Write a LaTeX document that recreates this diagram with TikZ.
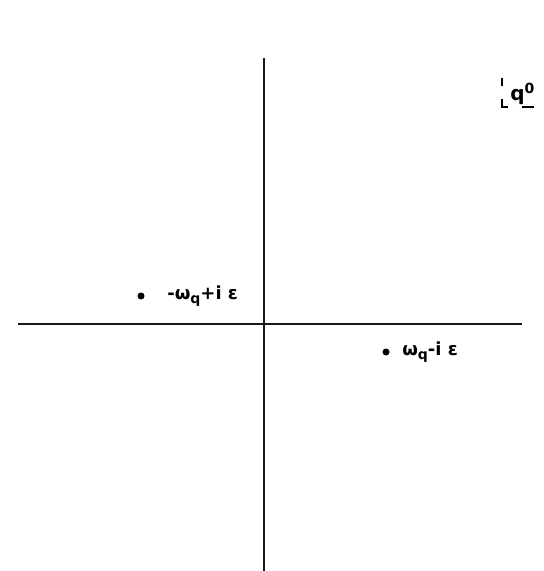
\documentclass[tikz,border=0pt]{standalone}
\usepackage{fontspec}
\setmainfont{DejaVu Sans}
\usepackage{tikz}
\usetikzlibrary{positioning}

\newcommand{\lowsub}[1]{\raisebox{-0.45ex}{\fontsize{7}{8}\selectfont #1}}

\tikzset{
  axis/.style={line width=1pt, black!90},
  pole/.style={circle, fill=black, inner sep=0pt, minimum size=3.5pt},
  polelabel/.style={font=\fontsize{9}{10}\selectfont\bfseries, inner sep=1pt, anchor=west},
  corner/.style={line width=0.8pt}
}

\begin{document}
\begin{tikzpicture}[x={(0.5pt,0)}, y={(0,-0.5pt)}]
  \useasboundingbox[fill=white] (0,0) rectangle (544,571);
  % axes
  \coordinate (top) at (264,58);
  \coordinate (bottom) at (264,571);
  \coordinate (left) at (18,324);
  \coordinate (right) at (522,324);
  \draw[axis] (top) -- (bottom);
  \draw[axis] (left) -- (right);
  % poles
  \node[pole] (p1) at (141,296) {};
  \node[pole] (p2) at (386,352) {};
  \node[polelabel, right=10pt of p1] (l1) {-ω\lowsub{q}+i ε};
  \node[polelabel, right=5pt of p2] (l2) {ω\lowsub{q}-i ε};
  % plane label (cut at the edge)
  \node[font=\fontsize{10}{11}\selectfont\bfseries, inner sep=0pt, anchor=base west] (q0) at (510,101) {q\textsuperscript{0}};
  \draw[corner] (502,78) -- (502,86);
  \draw[corner] (502,99) -- (502,107) -- (508,107);
  \draw[corner] (522,107) -- (534,107);
\end{tikzpicture}
\end{document}
